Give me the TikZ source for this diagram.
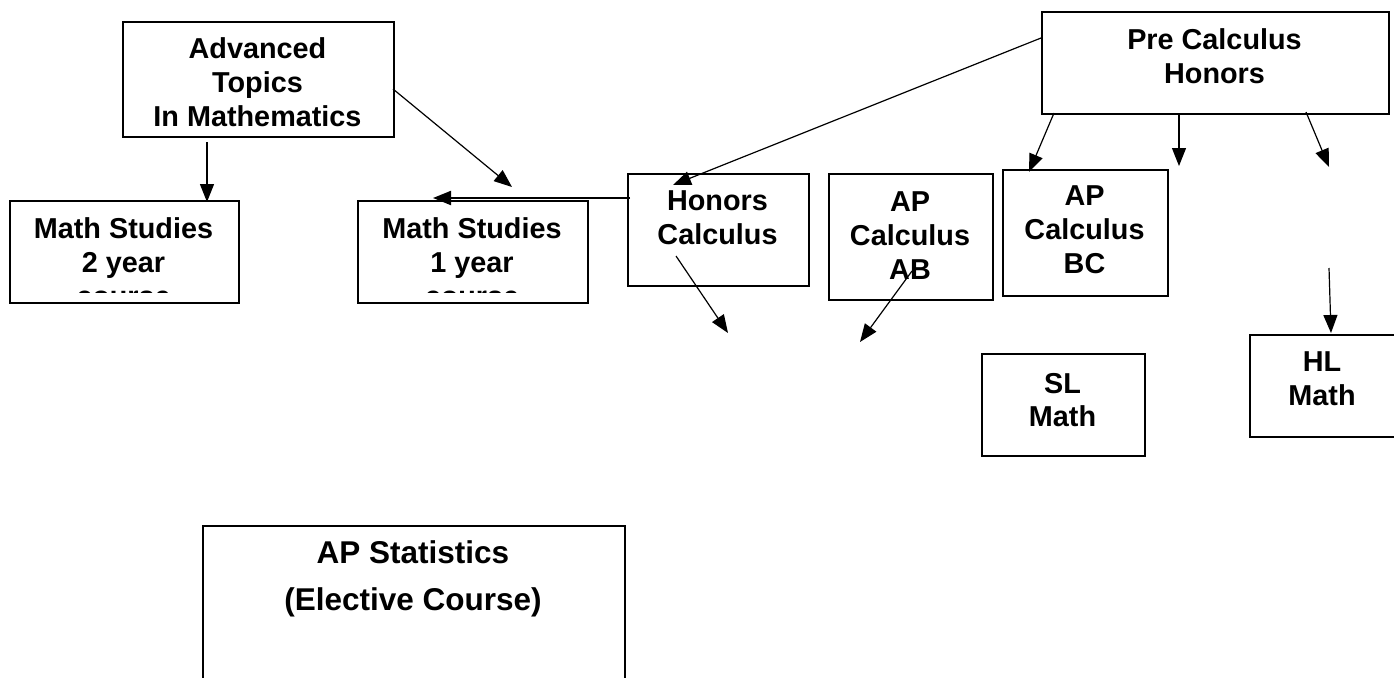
\documentclass[tikz,border=0pt]{standalone}
\usepackage{fontspec}
\setmainfont{Liberation Sans}
\usetikzlibrary{arrows.meta}

\tikzset{
  box/.style={draw, line width=2pt, anchor=north west, inner sep=0pt},
  lbl/.style={font=\bfseries\fontsize{28.8}{34}\selectfont, align=center, anchor=base, inner sep=0pt},
  arr/.style={line width=1.2pt, -{Triangle[length=18pt,width=14pt]}}
}

\begin{document}
\begin{tikzpicture}[x=1pt,y=-1pt]
\useasboundingbox (0,0) rectangle (1394,677);

% --- BOXES ---
\node[box, minimum width=271pt, minimum height=115pt] (adv) at (122,21) {};
\node[box, minimum width=229pt, minimum height=102pt] (ms2) at (9,200) {};
\node[box, minimum width=230pt, minimum height=102pt] (ms1) at (357,200) {};
\node[box, minimum width=181pt, minimum height=112pt] (hon) at (627,173) {};
\node[box, minimum width=164pt, minimum height=126pt] (ab) at (828,173) {};
\node[box, minimum width=165pt, minimum height=126pt] (bc) at (1002,169) {};
\node[box, minimum width=347pt, minimum height=102pt] (pre) at (1041,11) {};
\node[box, minimum width=163pt, minimum height=102pt] (sl) at (981,353) {};
\node[box, minimum width=147pt, minimum height=102pt] (hl) at (1249,334) {};
\node[box, minimum width=422pt, minimum height=170pt] (stat) at (202,525) {};

% --- TEXTS (base = last line) ---
\node[lbl] (advt) at (257.5,126) {Advanced\\Topics\\In Mathematics};
\begin{scope}
  \clip (9,200) rectangle (238,292);
  \node[lbl, font=\bfseries\fontsize{28.8}{33.8}\selectfont] (ms2t) at (123.5,306) {Math Studies\\2 year\\course};
\end{scope}
\begin{scope}
  \clip (357,200) rectangle (587,292);
  \node[lbl, font=\bfseries\fontsize{28.8}{33.8}\selectfont] (ms1t) at (472,306) {Math Studies\\1 year\\course};
\end{scope}
\node[lbl] (hont) at (717.5,244) {Honors\\Calculus};
\node[lbl] (abt) at (910,279) {AP\\Calculus\\AB};
\node[lbl] (bct) at (1084.5,273) {AP\\Calculus\\BC};
\node[lbl] (pret) at (1214.5,83) {Pre Calculus\\Honors};
\node[lbl, font=\bfseries\fontsize{28.8}{33}\selectfont] (slt) at (1062.5,426.5) {SL\\Math};
\node[lbl] (hlt) at (1322,405) {HL\\Math};
\node[lbl, font=\bfseries\fontsize{31.5}{47}\selectfont] (statt) at (413,610) {AP Statistics\\(Elective Course)};

% --- ARROW ENDS ---
\coordinate (advS) at (207,142);
\coordinate (ms2N) at (207,202);
\coordinate (advE) at (393,89);
\coordinate (advF) at (512,187);
\coordinate (honW) at (630,198);
\coordinate (ms1N) at (433,198);
\coordinate (preW) at (1041,38);
\coordinate (honN) at (673,185);
\coordinate (honS) at (676,256);
\coordinate (honF) at (728,333);
\coordinate (abS) at (912,271);
\coordinate (abF) at (860,342);
\coordinate (preA) at (1054,113);
\coordinate (bcN) at (1029,172);
\coordinate (preB) at (1179,113);
\coordinate (preF) at (1179,166);
\coordinate (preC) at (1306,112);
\coordinate (preG) at (1329,167);
\coordinate (hlF) at (1329,268);
\coordinate (hlN) at (1331,333);

% --- ARROWS ---
\draw[arr] (advS) -- (ms2N);
\draw[arr] (advE) -- (advF);
\draw[arr, line width=2pt] (honW) -- (ms1N);
\draw[arr] (preW) -- (honN);
\draw[arr] (honS) -- (honF);
\draw[arr] (abS) -- (abF);
\draw[arr] (preA) -- (bcN);
\draw[arr] (preB) -- (preF);
\draw[arr] (preC) -- (preG);
\draw[arr] (hlF) -- (hlN);

\end{tikzpicture}
\end{document}
